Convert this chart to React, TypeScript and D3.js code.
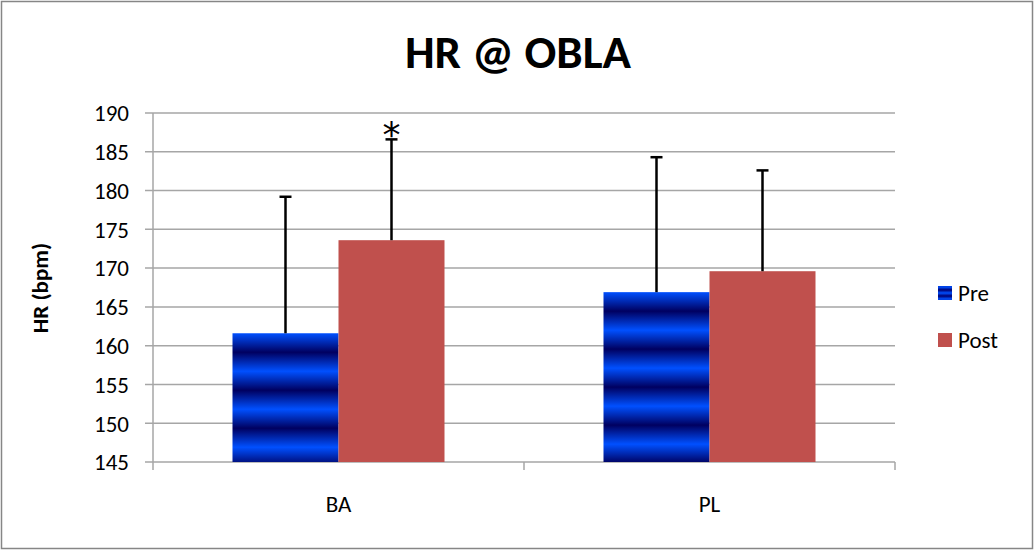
import React from "react";
import * as d3 from "d3";

const groups = ["BA", "PL"];
const series = ["Pre", "Post"];
const preValues = [161.6, 166.9];
const postValues = [173.6, 169.6];
const preErr = [17.6, 17.4];
const postErr = [13.0, 13.0];
const yTicks = [145, 150, 155, 160, 165, 170, 175, 180, 185, 190];

const W = 1034, H = 550;
const margin = { top: 113, right: 139, bottom: 88, left: 153 };
const font = "Carlito, Lato, 'Open Sans', sans-serif";

const App = () => {
  const x0 = d3.scaleBand().domain(groups).range([margin.left, W - margin.right]).paddingInner(0).paddingOuter(0);
  const x1 = d3.scaleBand().domain(series).range([0, x0.bandwidth()]).paddingOuter(0.75).paddingInner(0);
  const y = d3.scaleLinear().domain([145, 190]).range([H - margin.bottom, margin.top]);

  const rows = groups.map((g, i) => ({
    g,
    bars: [
      { s: "Pre", v: preValues[i], e: preErr[i] },
      { s: "Post", v: postValues[i], e: postErr[i] },
    ],
  }));

  const grid = "#a6a6a6";

  return (
    <svg width={W} height={H} style={{ position: "absolute", left: 0, top: 0 }}>
      <defs>
        {rows.map((r, i) => (
          <linearGradient key={r.g} id={`preGrad${i}`} gradientUnits="userSpaceOnUse"
            x1={0} x2={0} y1={y(r.bars[0].v)} y2={y(r.bars[0].v) + 19} spreadMethod="reflect">
            <stop offset="0" stopColor="#0050ff" />
            <stop offset="1" stopColor="#000060" />
          </linearGradient>
        ))}
        <linearGradient id="legGrad" gradientUnits="userSpaceOnUse" x1={0} x2={0} y1={287} y2={290} spreadMethod="reflect">
          <stop offset="0" stopColor="#0050ff" />
          <stop offset="1" stopColor="#000070" />
        </linearGradient>
      </defs>
      <rect x={1.5} y={1.5} width={W - 3} height={H - 3} fill="white" stroke="#868686" strokeWidth={1.5} />
      <text x={518} y={68} textAnchor="middle" fontFamily={font} fontWeight="bold" fontSize={47}>HR @ OBLA</text>

      {yTicks.map(t => (
        <g key={t}>
          <line x1={margin.left - 8} x2={W - margin.right} y1={y(t)} y2={y(t)} stroke={grid} strokeWidth={1.5} />
          <text x={129} y={y(t)} dy="0.36em" textAnchor="end" fontFamily={font} fontSize={23}>{t}</text>
        </g>
      ))}
      <line x1={margin.left} x2={margin.left} y1={margin.top} y2={y(145)} stroke={grid} strokeWidth={1.5} />
      {[...groups.map(g => x0(g)!), W - margin.right].map((p, i) => (
        <line key={i} x1={p} x2={p} y1={y(145)} y2={y(145) + 8} stroke={grid} strokeWidth={1.5} />
      ))}
      {groups.map(g => (
        <text key={g} x={x0(g)! + x0.bandwidth() / 2} y={512} textAnchor="middle" fontFamily={font} fontSize={23}>{g}</text>
      ))}

      {rows.map((r, i) => (
        <g key={r.g} transform={`translate(${x0(r.g)},0)`}>
          {r.bars.map(b => (
            <rect key={b.s} x={x1(b.s)} y={y(b.v)} width={x1.bandwidth()} height={y(145) - y(b.v)}
              fill={b.s === "Pre" ? `url(#preGrad${i})` : "#c0504d"} />
          ))}
          {r.bars.map(b => {
            const cx = x1(b.s)! + x1.bandwidth() / 2;
            return (
              <g key={b.s + "e"} stroke="black" strokeWidth={2.5}>
                <line x1={cx} x2={cx} y1={y(b.v)} y2={y(b.v + b.e)} />
                <line x1={cx - 6} x2={cx + 6} y1={y(b.v + b.e)} y2={y(b.v + b.e)} />
              </g>
            );
          })}
        </g>
      ))}
      <text x={x0("BA")! + x1("Post")! + x1.bandwidth() / 2} y={147} textAnchor="middle" fontFamily="'DejaVu Sans', sans-serif" fontSize={36}>*</text>

      <text x={48} y={288} transform="rotate(-90 48 288)" textAnchor="middle" fontFamily={font} fontWeight="bold" fontSize={23}>HR (bpm)</text>

      <rect x={938} y={286} width={14} height={14} fill="url(#legGrad)" />
      <text x={958} y={293} dy="0.36em" fontFamily={font} fontSize={23}>Pre</text>
      <rect x={938} y={333} width={14} height={14} fill="#c0504d" />
      <text x={958} y={340} dy="0.36em" fontFamily={font} fontSize={23}>Post</text>
    </svg>
  );
};

export default App;
